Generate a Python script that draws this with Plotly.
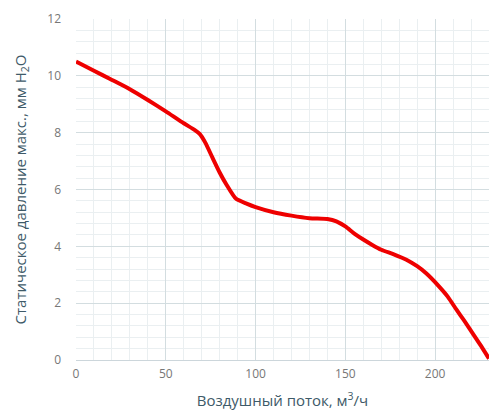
import plotly.graph_objects as go

airflow = [0, 10, 19, 30, 40, 50, 60, 66, 69, 72, 76, 80, 84, 89, 95, 100, 110, 120, 130, 140, 145, 150, 155, 160, 165, 170, 177, 184, 190, 195, 202, 207, 212, 216, 221, 225, 230]
pressure = [10.5, 10.18, 9.89, 9.53, 9.15, 8.75, 8.33, 8.1, 7.95, 7.65, 7.12, 6.6, 6.15, 5.68, 5.5, 5.38, 5.2, 5.08, 4.99, 4.96, 4.88, 4.7, 4.45, 4.24, 4.05, 3.88, 3.72, 3.53, 3.3, 3.05, 2.6, 2.23, 1.76, 1.4, 0.93, 0.55, 0.05]

x_ticks = [0, 50, 100, 150, 200]
y_ticks = [0, 2, 4, 6, 8, 10, 12]

fig = go.Figure()
fig.add_trace(go.Scatter(
    x=airflow, y=pressure, mode="lines",
    line=dict(color="#ee0000", width=4, shape="spline", smoothing=0.6),
    hoverinfo="skip", showlegend=False,
))

font = "Open Sans, Noto Sans, sans-serif"
fig.update_layout(
    width=489, height=410,
    margin=dict(l=76, r=0, t=19, b=50, autoexpand=False),
    paper_bgcolor="white", plot_bgcolor="white",
    font=dict(family=font, color="#777777", size=12),
    xaxis=dict(
        range=[0, 230], tickvals=x_ticks, showgrid=True, gridcolor="#d3dde0", gridwidth=1,
        minor=dict(dtick=10, showgrid=True, gridcolor="#eaeff1", gridwidth=1),
        zeroline=False, showline=True, linecolor="#ccd6db", linewidth=1,
        ticks="", ticklabelstandoff=3, automargin=False,
        tickfont=dict(size=12, color="#777777"),
        title=dict(text="Воздушный поток, м<sup>3</sup>/ч", font=dict(size=15, color="#3e5a68"), standoff=15),
    ),
    yaxis=dict(
        range=[0, 12], tickvals=y_ticks, showgrid=True, gridcolor="#d3dde0", gridwidth=1,
        minor=dict(dtick=0.4, showgrid=True, gridcolor="#eaeff1", gridwidth=1),
        zeroline=False, showline=False,
        ticks="", ticklabelstandoff=14, automargin=False,
        tickfont=dict(size=12, color="#777777"),
        title=dict(text="Статическое давление макс., мм H<sub>2</sub>O", font=dict(size=15, color="#3e5a68"), standoff=17),
    ),
)

fig.write_html(
    "out.html",
    config={"displayModeBar": False},
    post_script="document.body.style.margin='0';document.body.style.overflow='hidden';",
)
